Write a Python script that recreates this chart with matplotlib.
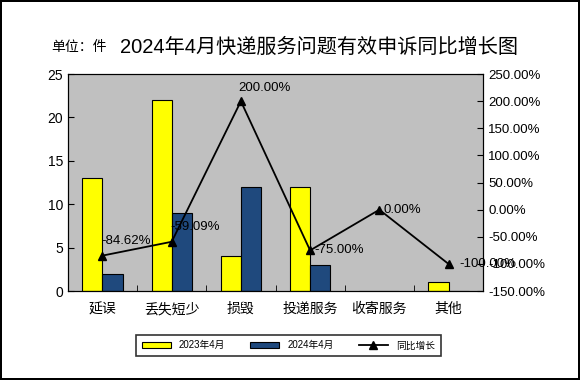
import matplotlib
matplotlib.use("Agg")
import matplotlib.pyplot as plt
import numpy as np

plt.rcParams['font.family'] = ['Liberation Sans', 'Noto Sans CJK SC', 'DejaVu Sans']

# data
categories = ['延误', '丢失短少', '损毁', '投递服务', '收寄服务', '其他']
count_2023 = [13, 22, 4, 12, 0, 1]
count_2024 = [2, 9, 12, 3, 0, 0]
growth = [-84.62, -59.09, 200.00, -75.00, 0.00, -100.00]
series_names = ['2023年4月', '2024年4月', '同比增长']

fig = plt.figure(figsize=(5.8, 3.8), dpi=100)
fig.patch.set_edgecolor('black')
fig.patch.set_linewidth(1.5)

ax = fig.add_axes([0.117, 0.234, 0.716, 0.571])
ax.set_facecolor('#C0C0C0')
x = np.arange(len(categories))
w = 0.29
b1 = ax.bar(x - w / 2, count_2023, w, color='#FFFF00', edgecolor='black', linewidth=0.8, label=series_names[0])
b2 = ax.bar(x + w / 2, count_2024, w, color='#1F497D', edgecolor='black', linewidth=0.8, label=series_names[1])
ax.set_xlim(-0.5, len(categories) - 0.5)
ax.set_ylim(0, 25)
ax.set_yticks(range(0, 26, 5))
ax.set_xticks(x)
ax.set_xticklabels(categories, fontsize=10)
ax.set_xticks(np.arange(-0.5, len(categories)), minor=True)
ax.tick_params(axis='x', which='major', length=0, pad=8)
ax.tick_params(axis='x', which='minor', direction='in', length=4)
ax.tick_params(axis='y', direction='in', length=4, labelsize=10)

ax2 = ax.twinx()
line, = ax2.plot(x, growth, color='black', marker='^', markersize=6, linewidth=1.3, label=series_names[2])
ax2.set_ylim(-150, 250)
ax2.set_yticks(range(-150, 251, 50))
ax2.set_yticklabels([f'{v:.2f}%' for v in range(-150, 251, 50)])
ax2.tick_params(axis='y', direction='in', length=4, labelsize=9.5)

# data labels next to the line points
for xi, g in zip(x, growth):
    if g == 200:
        ax2.annotate(f'{g:.2f}%', (xi, g), xytext=(-2, 5), textcoords='offset points',
                     fontsize=9.5, ha='left', va='bottom')
    elif g == -100:
        ax2.annotate(f'{g:.2f}%', (xi, g), xytext=(8, 0), textcoords='offset points',
                     fontsize=9.5, ha='left', va='center')
    elif g in (-84.62, -59.09):
        ax2.annotate(f'{g:.2f}%', (xi, g), xytext=(-1, 6), textcoords='offset points',
                     fontsize=9.5, ha='left', va='bottom')
    else:
        ax2.annotate(f'{g:.2f}%', (xi, g), xytext=(3, 0), textcoords='offset points',
                     fontsize=9.5, ha='left', va='center')

fig.text(0.088, 0.875, '单位：件', fontsize=10, va='center')
fig.text(0.207, 0.875, '2024年4月快递服务问题有效申诉同比增长图', fontsize=14.5, va='center')

leg = fig.legend(handles=[b1, b2, line], loc='center', bbox_to_anchor=(0.497, 0.091),
                 ncol=3, fontsize=7, frameon=True, fancybox=False, edgecolor='black',
                 handlelength=3, columnspacing=2.6, borderpad=0.6)
leg.get_frame().set_linewidth(1.2)

fig.savefig('out.png', dpi=100, edgecolor=fig.get_edgecolor())
